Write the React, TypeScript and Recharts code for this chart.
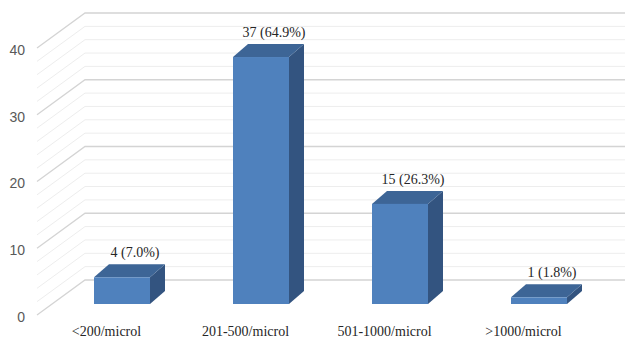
import React from 'react';
import { BarChart, Bar, XAxis, YAxis, CartesianGrid, LabelList } from 'recharts';

const categories = ['<200/microl', '201-500/microl', '501-1000/microl', '>1000/microl'];
const counts = [4, 37, 15, 1];
const percents = [7.0, 64.9, 26.3, 1.8];
const gridTicks = [0, 2, 4, 6, 8, 10, 12, 14, 16, 18, 20, 22, 24, 26, 28, 30, 32, 34, 36, 38, 40];
const labelStep = 10;

const data = categories.map((c, i) => ({
  category: c,
  count: counts[i],
  label: `${counts[i]} (${percents[i].toFixed(1)}%)`,
}));

// 3D geometry (offsets from the bar front plane)
const DEPTH_DX = 15;
const DEPTH_DY = 13;
const WALL_DX = 33;
const WALL_DY = 24;
const FRONT_DX = 15;
const FRONT_DY = 11;

const FRONT_COLOR = '#4F81BD';
const TOP_COLOR = '#3D6596';
const SIDE_COLOR = '#335480';

const SERIF = 'Liberation Serif, Times New Roman, serif';
const SANS = 'Liberation Sans, Arial, sans-serif';

const Bar3D = (props: any) => {
  const { x, y, width, height } = props;
  if (x == null || y == null || !width || height == null) return null;
  const top = `${x},${y} ${x + DEPTH_DX},${y - DEPTH_DY} ${x + width + DEPTH_DX},${y - DEPTH_DY} ${x + width},${y}`;
  const side = `${x + width},${y} ${x + width + DEPTH_DX},${y - DEPTH_DY} ${x + width + DEPTH_DX},${y + height - DEPTH_DY} ${x + width},${y + height}`;
  return (
    <g>
      <polygon points={side} fill={SIDE_COLOR} />
      <polygon points={top} fill={TOP_COLOR} />
      <rect x={x} y={y} width={width} height={height} fill={FRONT_COLOR} />
    </g>
  );
};

const gridLine = (props: any) => {
  const { x1, y1, x2, index } = props;
  const v = gridTicks[index];
  const major = v % labelStep === 0;
  const d = `M${x1 - FRONT_DX},${y1 + FRONT_DY} L${x1 + WALL_DX},${y1 - WALL_DY} L${x2 + WALL_DX},${y1 - WALL_DY}`;
  return (
    <path
      key={`grid-${index}`}
      d={d}
      fill="none"
      stroke={major ? '#D4D4D4' : '#EDEDED'}
      strokeWidth={major ? 1.3 : 1}
    />
  );
};

const YTick = (props: any) => {
  const { x, y, payload } = props;
  if (payload.value % labelStep !== 0) return <g />;
  return (
    <text
      x={x - FRONT_DX - 12}
      y={y + FRONT_DY + 2}
      dy="0.35em"
      textAnchor="end"
      style={{ fontFamily: SANS, fontSize: 14 }}
      fill="#595959"
    >
      {payload.value}
    </text>
  );
};

const XTick = (props: any) => {
  const { x, y, payload } = props;
  return (
    <text
      x={x - FRONT_DX}
      y={y + 32}
      textAnchor="middle"
      style={{ fontFamily: SERIF, fontSize: 14 }}
      fill="#262626"
    >
      {payload.value}
    </text>
  );
};

const DataLabel = (props: any) => {
  const { x, y, width, value } = props;
  if (x == null || y == null) return null;
  return (
    <text
      x={x + width / 2 + 13}
      y={y - 20}
      textAnchor="middle"
      style={{ fontFamily: SERIF, fontSize: 14 }}
      fill="#262626"
    >
      {value}
    </text>
  );
};

export default function App() {
  return (
    <div style={{ position: 'absolute', left: 0, top: 0, width: 625, height: 339, background: '#fff' }}>
      <BarChart width={625} height={339} data={data} margin={{ top: 37, right: 17, bottom: 0, left: 0 }}>
        <CartesianGrid vertical={false} horizontal={gridLine} />
        <XAxis
          dataKey="category"
          height={35}
          axisLine={false}
          tickLine={false}
          tickSize={0}
          tickMargin={0}
          interval={0}
          tick={<XTick />}
        />
        <YAxis
          width={52}
          domain={[0, 40]}
          ticks={gridTicks}
          interval={0}
          axisLine={false}
          tickLine={false}
          tickSize={0}
          tickMargin={0}
          tick={<YTick />}
        />
        <Bar
          dataKey="count"
          barSize={56}
          shape={<Bar3D />}
          isAnimationActive={false}
        >
          <LabelList dataKey="label" content={<DataLabel />} />
        </Bar>
      </BarChart>
    </div>
  );
}
